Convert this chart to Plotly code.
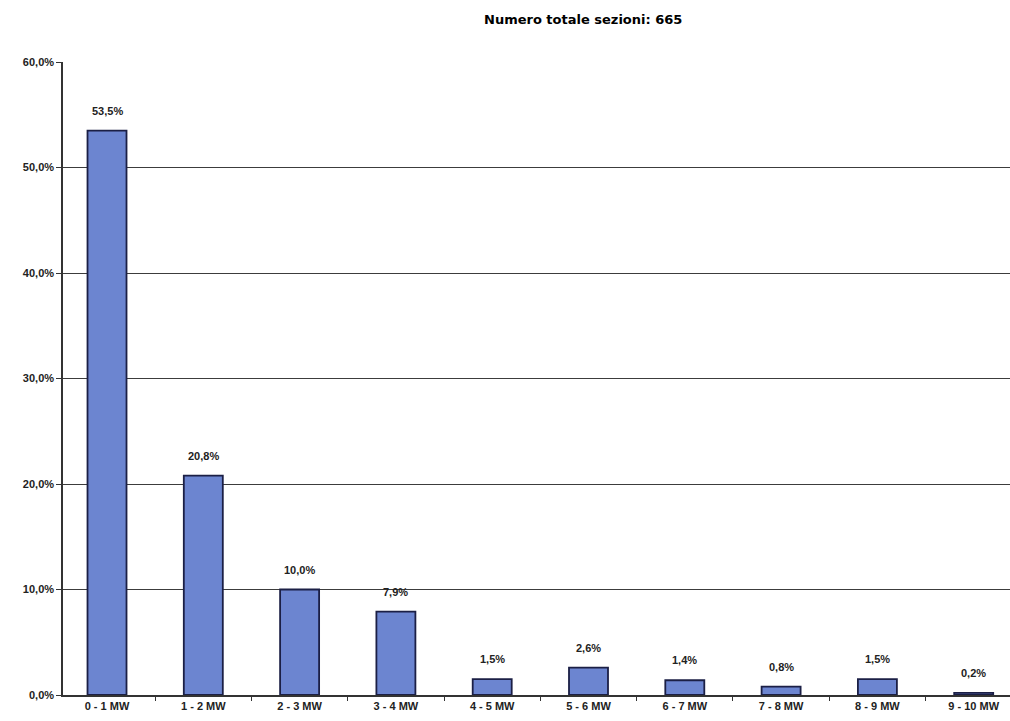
import plotly.graph_objects as go

# Distribution of sections by rated power class
categories = ["0 - 1 MW", "1 - 2 MW", "2 - 3 MW", "3 - 4 MW", "4 - 5 MW",
              "5 - 6 MW", "6 - 7 MW", "7 - 8 MW", "8 - 9 MW", "9 - 10 MW"]
shares = [53.5, 20.8, 10.0, 7.9, 1.5, 2.6, 1.4, 0.8, 1.5, 0.2]
y_ticks = [0, 10, 20, 30, 40, 50, 60]
title_text = "Numero totale sezioni: 665"


def pct(v):
    return f"{v:.1f}%".replace(".", ",")


W, H = 1010, 721
L, R, T, B = 63, 0, 62, 26
plot_w, plot_h = W - L - R, H - T - B

label_font = dict(family="Liberation Sans, Arial, sans-serif", size=11,
                  color="#222", weight="bold")

fig = go.Figure(
    go.Bar(
        x=categories,
        y=shares,
        width=0.405,
        marker=dict(color="#6c85d0", line=dict(color="#1b1f45", width=1.8)),
        hoverinfo="skip",
    )
)

# value labels above each bar
for cat, val in zip(categories, shares):
    fig.add_annotation(x=cat, y=val, text=pct(val), showarrow=False,
                       yshift=20, font=label_font, xanchor="center",
                       yanchor="middle")

# chart heading
fig.add_annotation(text=title_text, xref="paper", yref="paper",
                   x=(583 - L) / plot_w, y=1 + (T - 20) / plot_h,
                   showarrow=False, xanchor="center", yanchor="middle",
                   font=dict(family="DejaVu Sans, sans-serif", size=13,
                             color="#000", weight="bold"))

fig.update_layout(
    width=W,
    height=H,
    margin=dict(l=L, r=R, t=T, b=B),
    paper_bgcolor="white",
    plot_bgcolor="white",
    showlegend=False,
)

fig.update_xaxes(
    type="category",
    categoryorder="array",
    categoryarray=categories,
    range=[-0.457, 9.377],
    showline=True,
    linecolor="#333",
    linewidth=1.5,
    ticks="outside",
    tickson="boundaries",
    ticklen=4,
    tickcolor="#333",
    tickwidth=1.2,
    tickfont=label_font,
    showgrid=False,
    zeroline=False,
)

fig.update_yaxes(
    range=[0, 60],
    tickmode="array",
    tickvals=y_ticks,
    ticktext=[pct(v) for v in y_ticks],
    showline=True,
    linecolor="#333",
    linewidth=1.5,
    ticks="outside",
    ticklen=5,
    tickcolor="#333",
    tickfont=label_font,
    showgrid=True,
    gridcolor="#3c3c3c",
    gridwidth=1.3,
    zeroline=False,
)

fig.write_html("out.html")
